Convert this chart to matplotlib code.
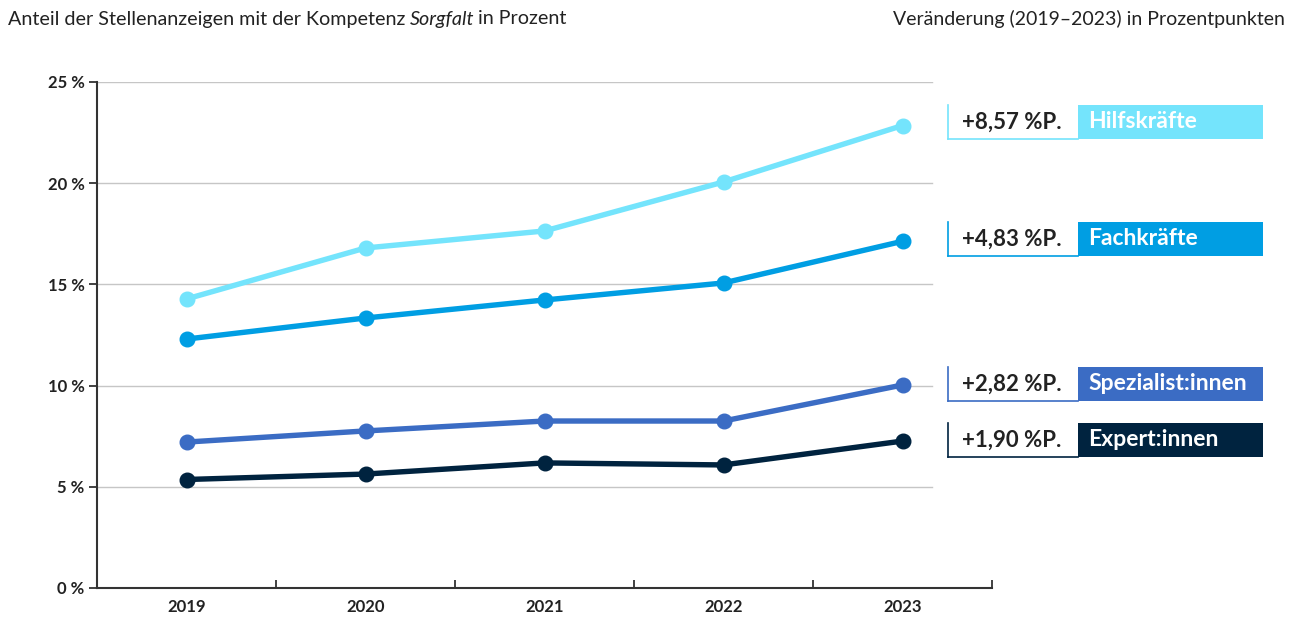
import numpy as np
import matplotlib
matplotlib.use("Agg")
import matplotlib.pyplot as plt
from matplotlib.patches import Rectangle
from matplotlib.lines import Line2D

plt.rcParams['font.family'] = ['Lato', 'DejaVu Sans']

## data
years = ["2019", "2020", "2021", "2022", "2023"]
groups = ["Hilfskräfte", "Fachkräfte", "Spezialist:innen", "Expert:innen"]
hilfs = [14.28, 16.80, 17.64, 20.06, 22.85]
fach = [12.30, 13.34, 14.23, 15.07, 17.13]
spez = [7.21, 7.76, 8.25, 8.25, 10.03]
expert = [5.36, 5.63, 6.18, 6.08, 7.26]
changes = ["+8,57 %P.", "+4,83 %P.", "+2,82 %P.", "+1,90 %P."]
colors = ["#74E4FC", "#009EE3", "#3B6CC4", "#00233F"]
yticks = [0, 5, 10, 15, 20, 25]

series = [hilfs, fach, spez, expert]

W, H = 1295, 617
fig = plt.figure(figsize=(W / 100, H / 100), dpi=100)
ax = fig.add_axes([97 / W, 1 - 588 / H, (992 - 97) / W, (588 - 82) / H])

x = np.arange(len(years))
for vals, col in zip(series, colors):
    ax.plot(x, vals, color=col, lw=3.9, marker="o", markersize=10.5,
            solid_capstyle="round", zorder=3)

## gridlines stop a bit right of the last point
for t in yticks[1:]:
    ax.axhline(t, xmin=0, xmax=(932 - 97) / (992 - 97), color="#c6c6c6", lw=1, zorder=1)

ax.set_xlim(-0.5, 4.5)
ax.set_ylim(0, 25)
ax.set_yticks(yticks)
ax.set_yticklabels([f"{t} %" for t in yticks], fontsize=12, fontweight="bold", color="#222222")
ax.set_xticks(x)
ax.set_xticklabels(years, fontsize=12, fontweight="bold", color="#222222")
ax.set_xticks(np.arange(-0.5, 5, 1), minor=True)
ax.tick_params(axis="x", which="major", length=0, pad=8)
ax.tick_params(axis="x", which="minor", direction="in", length=6, width=1.3, color="#333333")
ax.tick_params(axis="y", length=6, width=1.3, color="#333333", pad=3)

for s in ["top", "right"]:
    ax.spines[s].set_visible(False)
for s in ["left", "bottom"]:
    ax.spines[s].set_color("#333333")
    ax.spines[s].set_linewidth(1.5)

## titles, with the italic word set separately
renderer = fig.canvas.get_renderer()
ty = 1 - 19 / H
t1 = fig.text(8 / W, ty, "Anteil der Stellenanzeigen mit der Kompetenz",
              fontsize=14.2, color="#222222", va="center", ha="left")
x1 = t1.get_window_extent(renderer=renderer).x1 + 4
t2 = fig.text(x1 / W, ty, "Sorgfalt", fontsize=14.2, style="italic",
              color="#222222", va="center", ha="left")
x2 = t2.get_window_extent(renderer=renderer).x1 + 4
fig.text(x2 / W, ty, "in Prozent", fontsize=14.2,
         color="#222222", va="center", ha="left")
fig.text(1285 / W, ty, "Veränderung (2019–2023) in Prozentpunkten",
         fontsize=14, color="#222222", va="center", ha="right")

## change labels on the right
box_centers = [122, 239, 384, 440]
for name, chg, col, cy in zip(groups, changes, colors, box_centers):
    top, bot = cy - 17, cy + 17
    fig.add_artist(Rectangle((1078 / W, 1 - bot / H), (1263 - 1078) / W, 34 / H,
                             transform=fig.transFigure, facecolor=col, edgecolor="none"))
    fig.add_artist(Line2D([948 / W, 948 / W], [1 - top / H, 1 - bot / H],
                          transform=fig.transFigure, color=col, lw=1.2))
    fig.add_artist(Line2D([948 / W, 1078 / W], [1 - bot / H, 1 - bot / H],
                          transform=fig.transFigure, color=col, lw=1.2))
    fig.text(1012 / W, 1 - cy / H, chg, fontsize=16, fontweight="bold",
             color="#222222", ha="center", va="center")
    fig.text(1088 / W, 1 - cy / H, name, fontsize=16.5, fontweight="bold",
             color="white", ha="left", va="center")

fig.savefig("out.png", dpi=100)
